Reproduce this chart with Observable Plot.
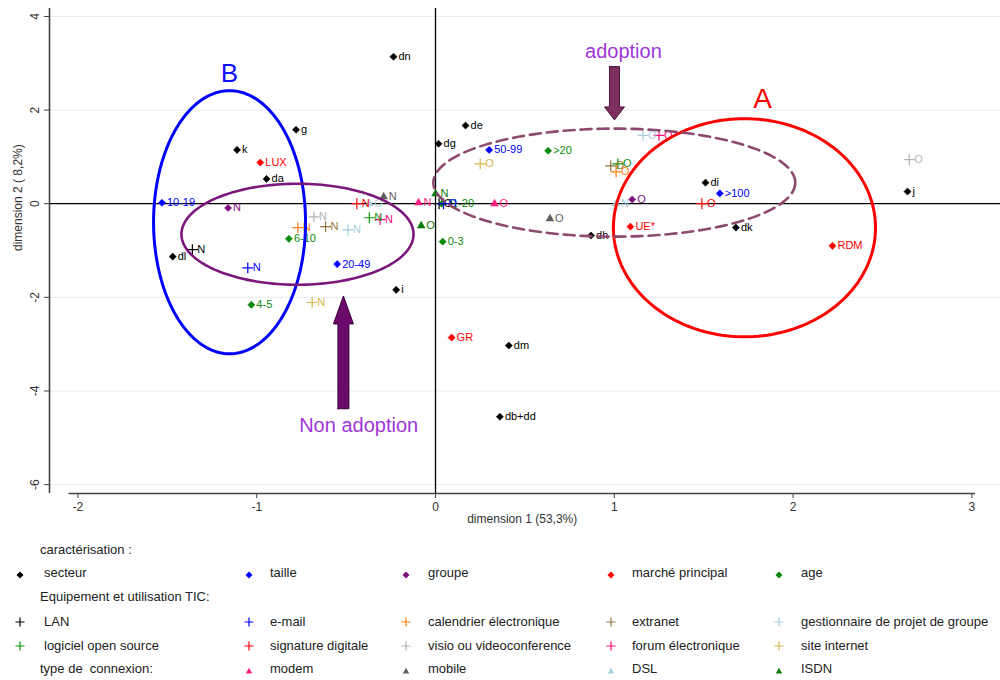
<!DOCTYPE html>
<html><head><meta charset="utf-8">
<script src="https://cdn.jsdelivr.net/npm/d3@7"></script>
<script src="https://cdn.jsdelivr.net/npm/@observablehq/plot@0.6"></script>
<style>
body{margin:0;background:#fff;font-family:"Liberation Sans",Arial,sans-serif;}
#wrap{position:relative;width:1000px;height:680px;overflow:hidden;}
#legend{position:absolute;left:0;top:535px;width:1000px;height:145px;font-size:13px;color:#222;}
.it{position:absolute;white-space:nowrap;line-height:16px;}
.mk{position:absolute;}
</style></head><body><div id="wrap"><div id="chart"></div><div id="legend"></div></div>
<script>
// ---------- data (label, dimension 1, dimension 2) ----------
const secteur = [["dn",-0.235,3.14],["g",-0.78,1.58],["k",-1.11,1.15],["da",-0.945,0.53],["dl",-1.47,-1.13],["i",-0.22,-1.84],["de",0.168,1.67],["dg",0.017,1.28],["dh",0.87,-0.68],["di",1.51,0.45],["dk",1.68,-0.51],["j",2.64,0.26],["dm",0.41,-3.03],["db+dd",0.36,-4.55]];
const taille = [["10-19",-1.53,0.02],["20-49",-0.55,-1.29],["50-99",0.30,1.15],[">100",1.59,0.22]];
const groupe = [["N",-1.16,-0.09],["O",1.10,0.09]];
const marche = [["LUX",-0.98,0.88],["UE*",1.09,-0.49],["RDM",2.22,-0.90],["GR",0.09,-2.86]];
const age = [["0-3",0.04,-0.81],["4-5",-1.03,-2.16],["6-10",-0.82,-0.75],["11-20",0.035,0.0],[">20",0.63,1.13]];
const lan = [["N",-1.36,-0.98],["O",0.02,0.0]];
const email = [["N",-1.05,-1.37],["O",0.045,0.0]];
const calendrier = [["N",-0.77,-0.51],["O",1.01,0.68]];
const extranet = [["N",-0.615,-0.49],["O",0.98,0.81]];
const gestionnaire = [["N",-0.49,-0.56],["O",1.16,1.46]];
const logiciel = [["N",-0.37,-0.30],["O",1.02,0.85]];
const signature = [["N",-0.44,0.0],["O",1.49,0.0]];
const visio = [["N",-0.68,-0.28],["O",2.65,0.94]];
const forum = [["N",-0.31,-0.34],["O",1.25,1.46]];
const site = [["N",-0.69,-2.11],["O",0.25,0.85]];
const modem = [["N",-0.095,0.02],["O",0.33,0.0]];
const mobile = [["N",-0.29,0.15],["O",0.64,-0.32]];
const dsl = [["N",1.01,0.0],["O",-0.37,0.0]];
const isdn = [["N",0.0,0.21],["O",-0.08,-0.47]];

const xTicks = [-2,-1,0,1,2,3];
const yTicks = [-6,-4,-2,0,2,4];

// ellipses: centre x, centre y, radius x, radius y (data units)
const ellipseNames = ["B","nonadoption","A","adoption"];
const ellipseCx = [-1.152,-0.772,1.728,1.00];
const ellipseCy = [-0.395,-0.652,-0.513,0.45];
const ellipseRx = [0.425,0.649,0.733,1.012];
const ellipseRy = [2.81,1.079,2.33,1.154];

// annotations
const noteText = ["B","A","adoption","Non adoption"];
const noteX = [-1.152,1.829,1.051,-0.43];
const noteY = [2.78,2.24,3.25,-4.74];
const arrowX = [1.001,-0.515];
const arrowTail = [2.93,-4.38];
const arrowTip = [1.79,-1.97];

// ---------- styles ----------
const series = [
 {name:"secteur", pts:secteur, shape:"diamond", color:"#000000"},
 {name:"taille", pts:taille, shape:"diamond", color:"#0000ff"},
 {name:"groupe", pts:groupe, shape:"diamond", color:"#7f0f7f"},
 {name:"marché principal", pts:marche, shape:"diamond", color:"#ff0000"},
 {name:"age", pts:age, shape:"diamond", color:"#0a8a0a"},
 {name:"LAN", pts:lan, shape:"plus", color:"#000000"},
 {name:"e-mail", pts:email, shape:"plus", color:"#0000ff"},
 {name:"calendrier électronique", pts:calendrier, shape:"plus", color:"#ff7f0e"},
 {name:"extranet", pts:extranet, shape:"plus", color:"#94763a"},
 {name:"gestionnaire de projet de groupe", pts:gestionnaire, shape:"plus", color:"#a6cde0"},
 {name:"logiciel open source", pts:logiciel, shape:"plus", color:"#0a960a"},
 {name:"signature digitale", pts:signature, shape:"plus", color:"#ff0000"},
 {name:"visio ou videoconference", pts:visio, shape:"plus", color:"#b4b4b4"},
 {name:"forum électronique", pts:forum, shape:"plus", color:"#ff0a78"},
 {name:"site internet", pts:site, shape:"plus", color:"#d8b44a"},
 {name:"modem", pts:modem, shape:"triangle", color:"#ff1f7f"},
 {name:"mobile", pts:mobile, shape:"triangle", color:"#606060"},
 {name:"DSL", pts:dsl, shape:"triangle", color:"#a8cfe0"},
 {name:"ISDN", pts:isdn, shape:"triangle", color:"#0a7a0a"}
];
const rows = series.flatMap(s => s.pts.map(([label,x,y]) => ({label,x,y,shape:s.shape,color:s.color})));

const ellipseStyle = [
 {stroke:"#0000ff", strokeWidth:3},
 {stroke:"#7b177b", strokeWidth:2.6},
 {stroke:"#ff0000", strokeWidth:3},
 {stroke:"#8c4a6e", strokeWidth:2.6, strokeDasharray:"11,6"}
];
const ellipsePts = ellipseNames.map((n,i) => d3.range(0,181).map(k => {
  const t = k/180*2*Math.PI;
  return {id:n, x:ellipseCx[i]+ellipseRx[i]*Math.cos(t), y:ellipseCy[i]+ellipseRy[i]*Math.sin(t)};
}));

const X0=-2.159, X1=3.16, Y0=-6.19, Y1=4.17;
const W=1000, H=535, mL=49, mR=0, mT=8, mB=42;
const dxPx = (X1-X0)/(W-mL-mR), dyPx = (Y1-Y0)/(H-mT-mB);

// block arrows: [shaft half-width px, head half-width px, head length px, fill, stroke]
const arrowStyle = [[5,10,13,"#7d2f5f","#4a1a3a"],[5.5,10,28,"#6c0a6c","#3a003a"]];
const arrowPts = arrowX.flatMap((x,i) => {
  const [sw,hw,hl,fill,stroke] = arrowStyle[i];
  const dir = Math.sign(arrowTip[i]-arrowTail[i]);
  const yh = arrowTip[i] - dir*hl*dyPx;
  const s = sw*dxPx, h = hw*dxPx;
  return [[x-s,arrowTail[i]],[x+s,arrowTail[i]],[x+s,yh],[x+h,yh],[x,arrowTip[i]],[x-h,yh],[x-s,yh],[x-s,arrowTail[i]]]
    .map(([px,py]) => ({id:i, x:px, y:py, fill, stroke}));
});

const noteStyle = [
 {fill:"#1010ff", fontSize:26},
 {fill:"#ff0000", fontSize:28},
 {fill:"#a035d8", fontSize:20},
 {fill:"#a035d8", fontSize:20}
];

const fmt = d => String(d);
const font = "Liberation Sans, Arial, sans-serif";
const chart = Plot.plot({
  width:W, height:H, marginLeft:mL, marginRight:mR, marginTop:mT, marginBottom:mB,
  x:{domain:[X0,X1]}, y:{domain:[Y0,Y1]},
  color:{type:"identity"},
  style:{fontFamily:font, background:"#fff", color:"#333"},
  marks:[
    Plot.ruleY(yTicks.filter(d=>d!==0), {stroke:"#e4eef0", strokeWidth:1}),
    Plot.ruleY([0], {stroke:"#000", strokeWidth:1.3}),
    Plot.ruleX([0], {stroke:"#000", strokeWidth:1.3}),
    Plot.ruleX([X0], {stroke:"#444", strokeWidth:1.6}),
    Plot.ruleY([{y:Y0, x1:-2.05, x2:3.02}], {y:"y", x1:"x1", x2:"x2", stroke:"#444", strokeWidth:1.6}),
    Plot.axisY(yTicks, {anchor:"left", tickSize:5, tickPadding:6, tickRotate:-90, tickFormat:fmt, fontSize:12, label:null, stroke:"#444", fill:"#333"}),
    Plot.axisX(xTicks, {anchor:"bottom", tickSize:5, tickPadding:4, tickFormat:fmt, fontSize:12, label:null, stroke:"#444", fill:"#333"}),
    Plot.text(["dimension 2 ( 8,2%)"], {frameAnchor:"left", rotate:-90, dx:-31, fontSize:12, fill:"#333"}),
    Plot.text([{x:0.485, t:"dimension 1 (53,3%)"}], {x:"x", text:"t", frameAnchor:"bottom", dy:29, fontSize:12, fill:"#333"}),
    // points
    Plot.dot(rows.filter(d=>d.shape==="diamond"), {x:"x", y:"y", symbol:"diamond2", r:3.2, fill:"color", stroke:"color", strokeWidth:0.6}),
    Plot.dot(rows.filter(d=>d.shape==="triangle"), {x:"x", y:"y", symbol:"triangle", r:3.2, fill:"color", stroke:"none"}),
    Plot.dot(rows.filter(d=>d.shape==="plus"), {x:"x", y:"y", symbol:"plus", r:3.6, fill:"none", stroke:"color", strokeWidth:1.2}),
    Plot.text(rows, {x:"x", y:"y", text:"label", fill:"color", dx:5, textAnchor:"start", fontSize:11}),
    // ellipses
    ...ellipsePts.map((pts,i) => Plot.line(pts, {x:"x", y:"y", curve:"linear", ...ellipseStyle[i]})),
    // arrows
    Plot.line(arrowPts, {x:"x", y:"y", z:"id", fill:"fill", stroke:"stroke", strokeWidth:1, curve:"linear-closed"}),
    // annotation text
    ...noteText.map((t,i) => Plot.text([{x:noteX[i], y:noteY[i], t}], {x:"x", y:"y", text:"t", ...noteStyle[i]}))
  ]
});
document.getElementById("chart").appendChild(chart);

// ---------- legend ----------
const legend = document.getElementById("legend");
const colX = [20,249,406,611,779], txtX = [44,270,428,632,801];
const rowY = [15,38,62,87,111,134];
function marker(shape,color){
  if(shape==="diamond") return `<svg width="10" height="10"><path d="M5,1.5L8.5,5L5,8.5L1.5,5Z" fill="${color}"/></svg>`;
  if(shape==="triangle") return `<svg width="10" height="10"><path d="M5,1.8L8.2,7.6L1.8,7.6Z" fill="${color}"/></svg>`;
  return `<svg width="12" height="12"><path d="M6,1.5V10.5M1.5,6H10.5" stroke="${color}" stroke-width="1.2"/></svg>`;
}
function addText(t,x,y){const d=document.createElement("div");d.className="it";d.style.left=x+"px";d.style.top=(y-8)+"px";d.textContent=t;legend.appendChild(d);}
function addItem(s,col,row){
  const m=document.createElement("div");m.className="mk";
  const sz = s.shape==="plus"?12:10;
  m.style.left=(colX[col]-sz/2)+"px";m.style.top=(rowY[row]-sz/2)+"px";m.innerHTML=marker(s.shape,s.color);legend.appendChild(m);
  addText(s.name,txtX[col],rowY[row]);
}
addText("caractérisation :",40,rowY[0]);
series.slice(0,5).forEach((s,i)=>addItem(s,i,1));
addText("Equipement et utilisation TIC:",40,rowY[2]);
series.slice(5,10).forEach((s,i)=>addItem(s,i,3));
series.slice(10,15).forEach((s,i)=>addItem(s,i,4));
const hdr=document.createElement("div");hdr.className="it";hdr.style.left="40px";hdr.style.top=(rowY[5]-8)+"px";hdr.style.whiteSpace="pre";hdr.textContent="type de  connexion:";legend.appendChild(hdr);
series.slice(15,19).forEach((s,i)=>addItem(s,i+1,5));
</script></body></html>
